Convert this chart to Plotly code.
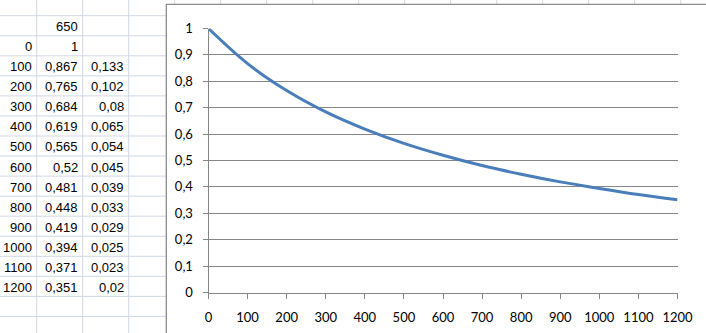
import plotly.graph_objects as go

# ---- data ----
distance = [0, 100, 200, 300, 400, 500, 600, 700, 800, 900, 1000, 1100, 1200]
ratio = [1, 0.867, 0.765, 0.684, 0.619, 0.565, 0.52, 0.481, 0.448, 0.419, 0.394, 0.371, 0.351]
ratio_text = ["1", "0,867", "0,765", "0,684", "0,619", "0,565", "0,52", "0,481", "0,448",
              "0,419", "0,394", "0,371", "0,351"]
diff_text = ["", "0,133", "0,102", "0,08", "0,065", "0,054", "0,045", "0,039", "0,033",
             "0,029", "0,025", "0,023", "0,02"]
header_text = ["", "650", ""]

W, H = 706, 333

def px(x):
    return x / W

def py(y):
    return 1 - y / H

fig = go.Figure()
fig.add_trace(go.Scatter(
    x=distance, y=ratio, mode="lines",
    line=dict(color="#4A7EBB", width=3, shape="spline", smoothing=1.0),
    cliponaxis=False, showlegend=False, hoverinfo="x+y"))

shapes = []
grid_col = "#D0D7E5"
# spreadsheet column lines
col_x = [36.7 + 46 * i for i in range(16)]
for cx in col_x:
    shapes.append(dict(type="line", xref="paper", yref="paper",
                       x0=px(cx), x1=px(cx), y0=0, y1=1,
                       line=dict(color=grid_col, width=1), layer="below"))
# spreadsheet row lines
row_y = [15.7 + 20.05 * i for i in range(17)]
for ry in row_y:
    shapes.append(dict(type="line", xref="paper", yref="paper",
                       x0=0, x1=1, y0=py(ry), y1=py(ry),
                       line=dict(color=grid_col, width=1), layer="below"))
# chart area (white with gray border)
shapes.append(dict(type="rect", xref="paper", yref="paper",
                   x0=px(166.3), x1=px(720), y0=py(345), y1=py(4.3),
                   fillcolor="white", line=dict(color="#8C8C8C", width=1.3),
                   layer="below"))

annotations = []
cell_font = dict(family="Liberation Sans, Arial, sans-serif", size=13, color="black")
col_right = [33.5, 79.5, 125.5]

def add_cell(col, row_top, text):
    if not text:
        return
    annotations.append(dict(xref="paper", yref="paper", x=px(col_right[col]),
                            y=py(row_top + 11), xanchor="right", yanchor="middle",
                            text=text, showarrow=False, font=cell_font))

for c, t in enumerate(header_text):
    add_cell(c, row_y[0], t)
for i, d in enumerate(distance):
    rt = row_y[i + 1]
    add_cell(0, rt, str(d))
    add_cell(1, rt, ratio_text[i])
    add_cell(2, rt, diff_text[i])

axis_gray = "#868686"
tick_font = dict(family="Lato, Carlito, Calibri, sans-serif", size=13, color="black")

fig.update_layout(
    template="none",
    width=W, height=H,
    margin=dict(l=0, r=0, t=0, b=0, autoexpand=False),
    paper_bgcolor="white", plot_bgcolor="rgba(0,0,0,0)",
    separators=", ",
    shapes=shapes, annotations=annotations,
    xaxis=dict(domain=[px(208.5), px(677.5)], range=[0, 1200], dtick=100, tick0=0,
               automargin=False,
               showgrid=False, zeroline=False, showline=True, linecolor=axis_gray,
               linewidth=1, ticks="outside", ticklen=5, tickcolor=axis_gray,
               tickfont=tick_font, ticklabelstandoff=8),
    yaxis=dict(domain=[py(292.5), py(28.5)], range=[0, 1], dtick=0.1, tick0=0,
               automargin=False,
               showgrid=True, gridcolor=axis_gray, gridwidth=1, zeroline=False,
               showline=True, linecolor=axis_gray, linewidth=1,
               ticks="outside", ticklen=5, tickcolor=axis_gray,
               tickfont=tick_font, ticklabelstandoff=7),
)

fig.write_html("out.html")
